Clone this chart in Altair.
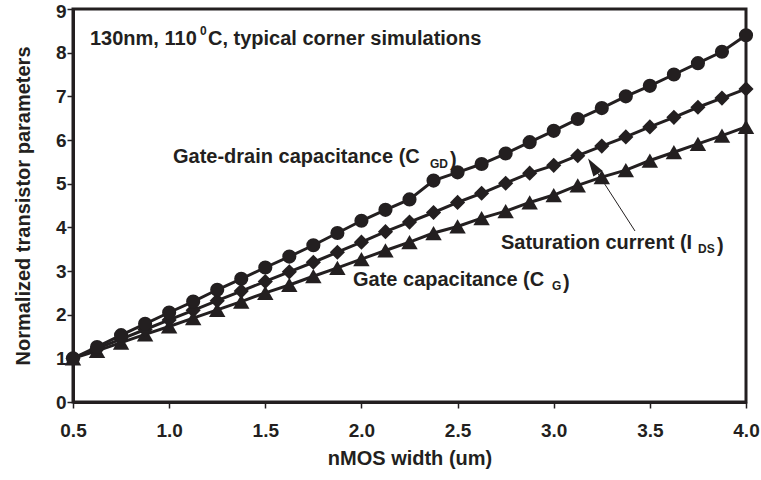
import altair as alt
import pandas as pd

width_um = [0.5, 0.625, 0.75, 0.875, 1.0, 1.125, 1.25, 1.375, 1.5, 1.625,
            1.75, 1.875, 2.0, 2.125, 2.25, 2.375, 2.5, 2.625, 2.75, 2.875,
            3.0, 3.125, 3.25, 3.375, 3.5, 3.625, 3.75, 3.875, 4.0]

c_gd = [1.00, 1.26, 1.53, 1.79, 2.05, 2.30, 2.57, 2.82, 3.08, 3.33,
        3.59, 3.87, 4.15, 4.40, 4.64, 5.07, 5.26, 5.45, 5.69, 5.95,
        6.21, 6.48, 6.73, 7.00, 7.24, 7.50, 7.76, 8.02, 8.40]

i_ds = [1.00, 1.22, 1.44, 1.66, 1.88, 2.10, 2.32, 2.54, 2.76, 2.98,
        3.20, 3.43, 3.66, 3.90, 4.12, 4.34, 4.57, 4.78, 5.01, 5.24,
        5.42, 5.64, 5.86, 6.07, 6.30, 6.52, 6.75, 6.96, 7.17]

c_g = [1.00, 1.17, 1.36, 1.55, 1.73, 1.92, 2.11, 2.30, 2.50, 2.68,
       2.88, 3.07, 3.27, 3.47, 3.66, 3.87, 4.02, 4.21, 4.37, 4.57,
       4.74, 4.96, 5.15, 5.31, 5.53, 5.72, 5.91, 6.10, 6.30]

x_ticks = [0.5, 1.0, 1.5, 2.0, 2.5, 3.0, 3.5, 4.0]
y_ticks = [0, 1, 2, 3, 4, 5, 6, 7, 8, 9]

INK = "#231f20"
FONT = "Liberation Sans"

rows = []
for name, vals in [("CG", c_g), ("IDS", i_ds), ("CGD", c_gd)]:
    for xv, yv in zip(width_um, vals):
        rows.append({"w": xv, "v": yv, "s": name})
df = pd.DataFrame(rows)

xenc = alt.X("w:Q", scale=alt.Scale(domain=[0.5, 4.0], nice=False, zero=False),
             axis=alt.Axis(values=x_ticks, format=".1f", title="nMOS width (um)",
                           grid=False, tickSize=6, tickWidth=1.5, domainWidth=3,
                           labelPadding=13, titlePadding=8, labelFlush=False))
yenc = alt.Y("v:Q", scale=alt.Scale(domain=[0, 9], nice=False),
             axis=alt.Axis(values=y_ticks, format="d", title="Normalized transistor parameters",
                           grid=False, tickSize=6, tickWidth=1.5, domainWidth=3,
                           labelPadding=1, titlePadding=22,
                           labelOffset=alt.ExprRef("datum.value == 9 ? 2 : 0")))

base = alt.Chart(df)

def series(name, shape, size):
    sub = base.transform_filter(alt.datum.s == name)
    line = sub.mark_line(color=INK, strokeWidth=3).encode(x=xenc, y=yenc, order="w:Q")
    pts = sub.mark_point(shape=shape, size=size, filled=True, color=INK, opacity=1).encode(x=xenc, y=yenc)
    return line + pts

layers = series("CG", "triangle-up", 270) + series("IDS", "diamond", 230) + series("CGD", "circle", 200)

ann = pd.DataFrame([
    {"t": "130nm, 110", "px": 17, "py": 36, "fs": 20},
    {"t": "0", "px": 127, "py": 26, "fs": 12},
    {"t": "C, typical corner simulations", "px": 135, "py": 36, "fs": 20},
    {"t": "Gate-drain capacitance (C", "px": 100, "py": 154, "fs": 20},
    {"t": "GD", "px": 357, "py": 159, "fs": 12},
    {"t": ")", "px": 377, "py": 157, "fs": 20},
    {"t": "Saturation current (I", "px": 428, "py": 240, "fs": 20},
    {"t": "DS", "px": 625, "py": 244, "fs": 12},
    {"t": ")", "px": 644, "py": 243, "fs": 20},
    {"t": "Gate capacitance (C", "px": 280, "py": 277, "fs": 20},
    {"t": "G", "px": 479, "py": 281, "fs": 12},
    {"t": ")", "px": 490, "py": 280, "fs": 20},
])
texts = alt.Chart(ann).mark_text(align="left", baseline="alphabetic", font=FONT,
                                 fontWeight="bold", color=INK).encode(
    x=alt.X("px:Q", scale=None), y=alt.Y("py:Q", scale=None),
    text="t:N", size=alt.Size("fs:Q", scale=None))

arrow_line = alt.Chart(pd.DataFrame({"a": [0]})).mark_rule(color=INK, strokeWidth=1).encode(
    x=alt.value(562), y=alt.value(222), x2=alt.value(522), y2=alt.value(160))
arrow_head = alt.Chart(pd.DataFrame({"a": [0]})).mark_point(
    shape="M0,-1L0.6,1L-0.6,1Z", size=330, filled=True, color=INK, opacity=1,
    angle=327).encode(x=alt.value(520), y=alt.value(157))

chart = (layers + texts + arrow_line + arrow_head).properties(
    width=673, height=393,
    autosize=alt.AutoSizeParams(type="none"),
    padding={"left": 73, "top": 9, "right": 15, "bottom": 78},
).configure_view(stroke=INK, strokeWidth=3).configure_axis(
    labelFont=FONT, titleFont=FONT, labelFontWeight="bold", titleFontWeight="bold",
    labelFontSize=19, titleFontSize=20, labelColor=INK, titleColor=INK,
    domainColor=INK, tickColor=INK,
)

chart.save("out.html", embed_options={"renderer": "svg", "actions": False})
